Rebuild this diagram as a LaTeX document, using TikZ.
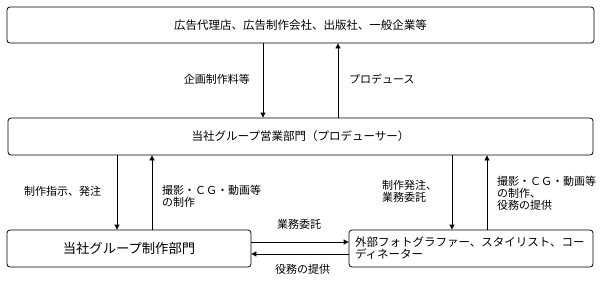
\documentclass[tikz,border=0pt]{standalone}
\usepackage{fontspec}
\setmainfont{Noto Sans CJK JP}
\usetikzlibrary{arrows.meta}

\begin{document}
\begin{tikzpicture}[
    x=1pt, y=-1pt,
    box/.style={draw=black, line width=0.8pt, rounded corners=3pt,
                inner sep=0pt, minimum height=37pt},
    arr/.style={line width=0.8pt, -{Triangle[length=5pt,width=5pt]}},
    lab/.style={font=\fontsize{11}{12}\selectfont, align=left, inner sep=0pt},
]
\useasboundingbox (0,0) rectangle (603,287);

% ---- boxes ----
\node[box, minimum width=587pt, minimum height=36pt,
      font=\fontsize{11.5}{12}\selectfont] (clients) at (300.5,25)
    {広告代理店、広告制作会社、出版社、一般企業等};
\node[box, minimum width=585pt, font=\fontsize{11.5}{12}\selectfont]
    (sales) at (300.5,136.5) {当社グループ営業部門（プロデューサー）};
\node[box, minimum width=244pt, font=\fontsize{13.3}{14}\selectfont]
    (prod) at (129,248.5) {当社グループ制作部門};
\node[box, minimum width=244pt, text width=232pt, inner xsep=6pt, align=left,
      font=\fontsize{11.5}{12}\selectfont] (ext) at (471,248.5)
    {外部フォトグラファー、スタイリスト、コー\\ディネーター};

% ---- clients <-> sales ----
\draw[arr] (clients.south -| 263,0) -- (sales.north -| 263,0);
\draw[arr] (sales.north -| 338,0) -- (clients.south -| 338,0);
\node[lab, anchor=east] (fee) at (250,79) {企画制作料等};
\node[lab, anchor=west] (produce) at (349,79) {プロデュース};

% ---- sales <-> production ----
\draw[arr] (sales.south -| 117,0) -- (prod.north -| 117,0);
\draw[arr] (prod.north -| 152,0) -- (sales.south -| 152,0);
\node[lab, anchor=west] (order) at (24,191) {制作指示、発注};
\node[lab, anchor=west] (make) at (162,196) {撮影・ＣＧ・動画等\\の制作};

% ---- sales <-> external ----
\draw[arr] (sales.south -| 452,0) -- (ext.north -| 452,0);
\draw[arr] (ext.north -| 487,0) -- (sales.south -| 487,0);
\node[lab, anchor=west] (outorder) at (382,191.5) {制作発注、\\業務委託};
\node[lab, anchor=west] (outmake) at (497,193)
    {撮影・ＣＧ・動画等\\の制作、\\役務の提供};

% ---- production <-> external ----
\draw[arr] (prod.east |- 0,242) -- (ext.west |- 0,242);
\draw[arr] (ext.west |- 0,254) -- (prod.east |- 0,254);
\node[lab] (entrust) at (299,224.5) {業務委託};
\node[lab] (service) at (302.5,269) {役務の提供};
\end{tikzpicture}
\end{document}
